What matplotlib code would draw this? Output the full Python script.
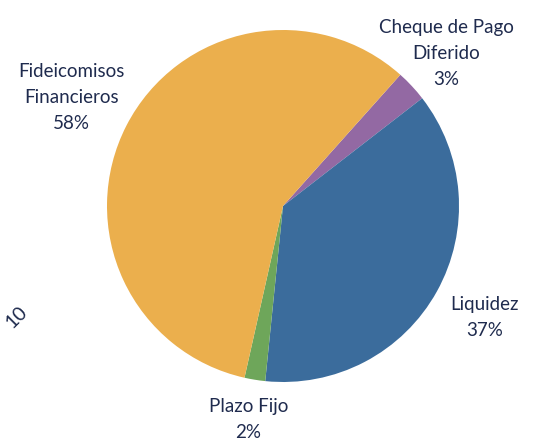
import numpy as np
import matplotlib.pyplot as plt

# Data
labels = ['Cheque de Pago\nDiferido', 'Liquidez', 'Plazo Fijo', 'Fideicomisos\nFinancieros']
values = [2.9, 37.1, 1.9, 58.1]
pct_text = ['3%', '37%', '2%', '58%']
colors = ['#9369A3', '#3B6C9C', '#6EA65A', '#EBAF4D']
label_dist = [1.27, 1.31, 1.23, 1.35]

text_color = '#1F2B4E'
plt.rcParams['font.family'] = ['Lato', 'DejaVu Sans']

fig = plt.figure(figsize=(5.49, 4.43), dpi=100)
ax = fig.add_axes([0.1949, 0.1377, 0.6412, 0.7946])

wedges, _ = ax.pie(values, colors=colors, startangle=48.2, counterclock=False,
                   wedgeprops=dict(linewidth=0), radius=1)
ax.set_aspect('equal')
ax.set_xlim(-1, 1)
ax.set_ylim(-1, 1)
ax.axis('off')

# Labels outside the slices
for w, lab, pct, d in zip(wedges, labels, pct_text, label_dist):
    ang = np.deg2rad((w.theta1 + w.theta2) / 2)
    x, y = d * np.cos(ang), d * np.sin(ang)
    ax.text(x, y, lab + '\n' + pct, ha='center', va='center', fontsize=13.5,
            color=text_color, linespacing=1.65, clip_on=False)

# partly hidden text at the left edge
fig.text(0.03, 0.285, '10', rotation=45, fontsize=14, color=text_color,
         ha='center', va='center')

fig.savefig('out.png', dpi=100)
